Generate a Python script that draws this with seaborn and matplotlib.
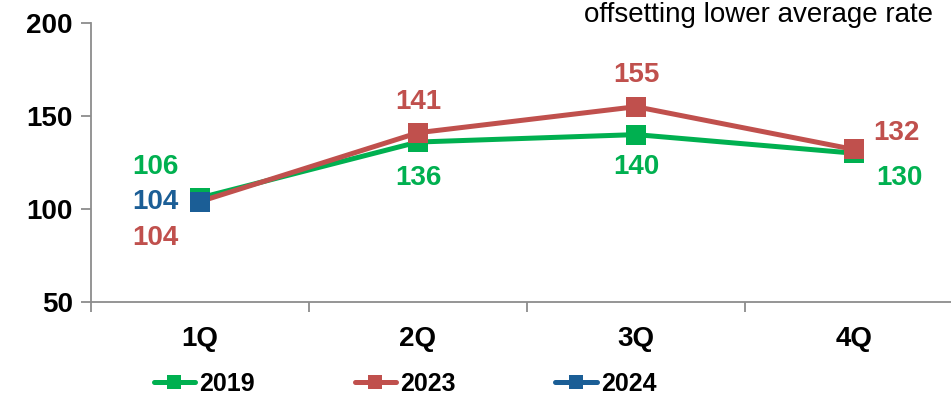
import matplotlib
matplotlib.use("Agg")
import matplotlib.pyplot as plt
from matplotlib.lines import Line2D
import seaborn as sns
import pandas as pd

quarters = ["1Q", "2Q", "3Q", "4Q"]
v2019 = [106, 136, 140, 130]
v2023 = [104, 141, 155, 132]
v2024 = [104]
years = ["2019", "2023", "2024"]
y_ticks = [50, 100, 150, 200]
note = "offsetting lower average rate"

colors = {"2019": "#00B050", "2023": "#C0504D", "2024": "#1B5E96"}

rows = []
for yr, vals in zip(years, [v2019, v2023, v2024]):
    for q, v in zip(quarters, vals):
        rows.append({"quarter": q, "value": v, "year": yr})
df = pd.DataFrame(rows)

sns.set_style("white")
plt.rcParams["font.family"] = ["Liberation Sans", "DejaVu Sans"]
plt.rcParams["text.color"] = "black"

fig = plt.figure(figsize=(9.51, 3.98), dpi=100)
ax = fig.add_axes([91 / 951, 1 - 302 / 398, 860 / 951, 279 / 398])

sns.lineplot(data=df, x="quarter", y="value", hue="year", palette=colors,
             marker="s", markersize=15, markeredgewidth=0, linewidth=3.6,
             dashes=False, sort=False, legend=False, ax=ax)

ax.set_xlim(-0.5, -0.5 + 860 / 218)
ax.set_ylim(50, 200)
ax.set_yticks(y_ticks)
ax.set_xticks(range(len(quarters)))
ax.set_xticklabels(quarters)
ax.set_xticks([-0.5, 0.5, 1.5, 2.5], minor=True)
ax.set_xlabel("")
ax.set_ylabel("")

spine_c = "#8C8C8C"
for s in ["top", "right"]:
    ax.spines[s].set_visible(False)
for s in ["left", "bottom"]:
    ax.spines[s].set_color(spine_c)
    ax.spines[s].set_linewidth(1.3)

ax.tick_params(axis="y", which="major", direction="out", length=7, width=1.3,
               color=spine_c, left=True, pad=6, labelsize=20, labelcolor="black")
ax.tick_params(axis="x", which="major", length=0, pad=17, labelsize=20,
               labelcolor="black")
ax.tick_params(axis="x", which="minor", direction="out", length=7, width=1.3,
               color=spine_c, bottom=True)
for lab in ax.get_xticklabels() + ax.get_yticklabels():
    lab.set_fontweight("bold")

# value labels: offsets in pixels from each point
offs = {
    "2019": [(-45, 31), (0, -36), (0, -32), (45, -25)],
    "2023": [(-45, -36), (0, 31), (0, 32), (42, 16)],
    "2024": [(-45, 0)],
}
for yr, vals in zip(years, [v2019, v2023, v2024]):
    for i, v in enumerate(vals):
        dx, dy = offs[yr][i]
        ax.annotate(str(v), xy=(i, v), xytext=(dx, dy), textcoords="offset pixels",
                    ha="center", va="center", fontsize=20, fontweight="bold",
                    color=colors[yr])

fig.text(933 / 951, 1 - 22 / 398, note, ha="right", va="baseline",
         fontsize=20, color="black")

handles = [Line2D([], [], color=colors[yr], linewidth=3.6, marker="s",
                  markersize=9.5, markeredgewidth=0) for yr in years]
leg = fig.legend(handles, years, loc="center", bbox_to_anchor=(405 / 951, 1 - 384 / 398),
                 ncol=3, frameon=False, handlelength=1.65, handletextpad=0.16,
                 columnspacing=4.0,
                 prop={"family": ["Liberation Sans"], "weight": "bold", "size": 18})

fig.savefig("out.png", dpi=100)
